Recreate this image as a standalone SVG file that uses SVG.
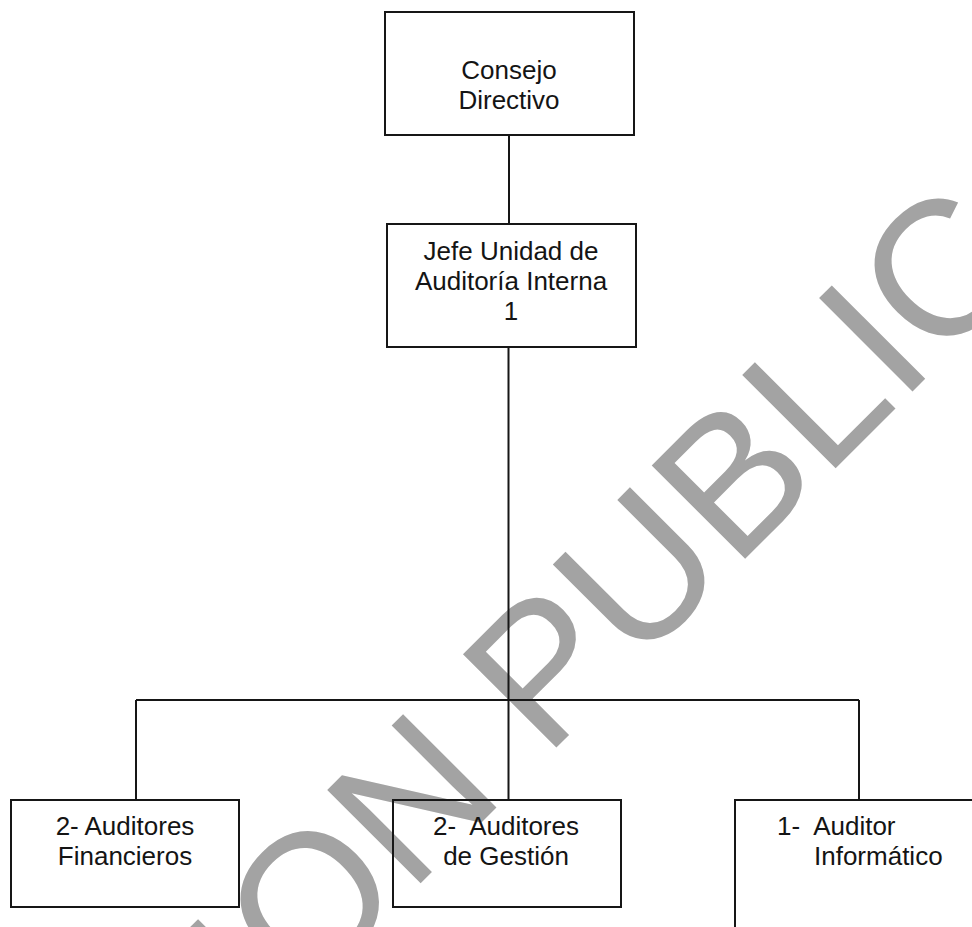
<svg xmlns="http://www.w3.org/2000/svg" width="972" height="927" viewBox="0 0 972 927">
  <style>
    .box { fill: none; stroke: #161616; stroke-width: 2; }
    .conn { fill: none; stroke: #161616; stroke-width: 2; }
    .lbl { font-family: "Liberation Sans", Arial, sans-serif; font-size: 26px; fill: #141414; }
    .mid { text-anchor: middle; }
    .wm { font-family: "Liberation Sans", Arial, sans-serif; font-size: 192px; fill: #a3a3a3; }
  </style>
  <rect x="0" y="0" width="972" height="927" fill="#ffffff"/>
  <g id="watermark">
    <text class="wm" transform="translate(-103.5,1407.5) rotate(-45)" x="0" y="0">VERSION PUBLICA</text>
  </g>
  <g id="connectors">
    <line class="conn" x1="509" y1="135" x2="509" y2="224"/>
    <line class="conn" x1="508.5" y1="347" x2="508.5" y2="800"/>
    <line class="conn" x1="136" y1="700" x2="859" y2="700"/>
    <line class="conn" x1="136" y1="700" x2="136" y2="800"/>
    <line class="conn" x1="859" y1="700" x2="859" y2="800"/>
  </g>
  <g id="consejo">
    <rect class="box" x="385" y="12" width="249" height="123"/>
    <text class="lbl mid" x="509" y="79">Consejo</text>
    <text class="lbl mid" x="509" y="109">Directivo</text>
  </g>
  <g id="jefe">
    <rect class="box" x="387" y="224" width="249" height="123"/>
    <text class="lbl mid" x="511" y="260">Jefe Unidad de</text>
    <text class="lbl mid" x="511" y="290">Auditoría Interna</text>
    <text class="lbl mid" x="511" y="320">1</text>
  </g>
  <g id="financieros">
    <rect class="box" x="11" y="800" width="228" height="107"/>
    <text class="lbl mid" x="125" y="835">2- Auditores</text>
    <text class="lbl mid" x="125" y="865">Financieros</text>
  </g>
  <g id="gestion">
    <rect class="box" x="393" y="800" width="228" height="107"/>
    <text class="lbl mid" x="506" y="835" xml:space="preserve">2-  Auditores</text>
    <text class="lbl mid" x="506" y="865">de Gestión</text>
  </g>
  <g id="informatico">
    <path class="box" d="M 980 800 L 735 800 L 735 935"/>
    <text class="lbl" x="777" y="835" xml:space="preserve">1-  Auditor</text>
    <text class="lbl" x="814" y="865">Informático</text>
  </g>
</svg>
